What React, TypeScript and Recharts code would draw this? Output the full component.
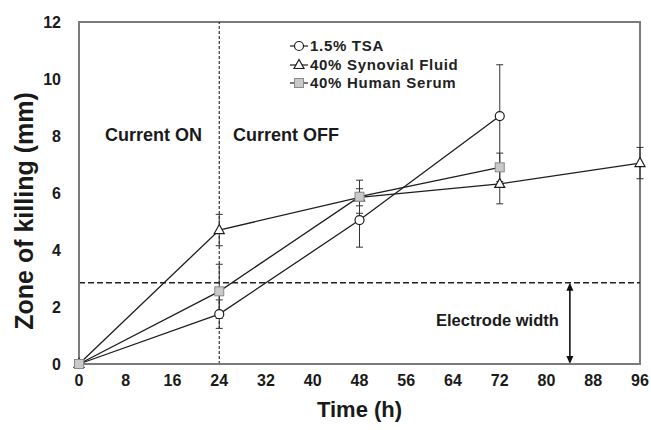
import React from 'react';
import { LineChart, Line, XAxis, YAxis, ErrorBar, ReferenceLine, ReferenceArea, Legend } from 'recharts';

const xTicks = [0, 8, 16, 24, 32, 40, 48, 56, 64, 72, 80, 88, 96];
const yTicks = [0, 2, 4, 6, 8, 10, 12];

const tsaTimes = [0, 24, 48, 72];
const tsaValues = [0, 1.75, 5.05, 8.7];
const tsaErrors = [0, 0.5, 0.95, 1.8];

const synTimes = [0, 24, 48, 72, 96];
const synValues = [0, 4.7, 5.85, 6.32, 7.05];
const synErrors = [0, 0.55, 0.3, 0.7, 0.55];

const serTimes = [0, 24, 48, 72];
const serValues = [0, 2.55, 5.87, 6.9];
const serErrors = [0, 0.95, 0.58, 0.5];

const electrodeWidth = 2.85;
const currentOffTime = 24;
const arrowTime = 84;

const build = (t: number[], v: number[], e: number[]) => t.map((x, i) => ({ t: x, v: v[i], e: e[i] }));
const tsaData = build(tsaTimes, tsaValues, tsaErrors);
const synData = build(synTimes, synValues, synErrors);
const serData = build(serTimes, serValues, serErrors);

const LINE = '#1e1e1e';
const AXIS = '#7a7a7a';
const FONT = 'Liberation Sans, Arial, sans-serif';

const CircleDot = (p: any) => <circle cx={p.cx} cy={p.cy} r={4.5} fill="#fff" stroke={LINE} strokeWidth={1.2} />;
const TriDot = (p: any) => (
  <polygon points={`${p.cx},${p.cy - 5.5} ${p.cx - 5},${p.cy + 3.5} ${p.cx + 5},${p.cy + 3.5}`} fill="#fff" stroke={LINE} strokeWidth={1.2} />
);
const SqDot = (p: any) => <rect x={p.cx - 4.5} y={p.cy - 4.5} width={9} height={9} fill="#c9c9c9" stroke="#8a8a8a" strokeWidth={1} />;

const legendItems = [
  { name: '1.5% TSA', Dot: CircleDot },
  { name: '40% Synovial Fluid', Dot: TriDot },
  { name: '40% Human Serum', Dot: SqDot },
];

const LegendContent = () => (
  <div style={{ fontFamily: FONT, fontWeight: 'bold', fontSize: 15, letterSpacing: 0.7, color: '#222', lineHeight: '18.5px' }}>
    {legendItems.map((it) => (
      <div key={it.name} style={{ display: 'flex', alignItems: 'center' }}>
        <svg width={20} height={14} style={{ marginRight: 1 }}>
          <line x1={1} y1={7} x2={19} y2={7} stroke={LINE} strokeWidth={1.2} />
          <it.Dot cx={10} cy={7} />
        </svg>
        <span>{it.name}</span>
      </div>
    ))}
  </div>
);

const ArrowShape = (p: any) => {
  const { x1, y1, x2, y2 } = p;
  const top = Math.min(y1, y2);
  const bot = Math.max(y1, y2);
  const x = x1;
  return (
    <g>
      <line x1={x} y1={top + 2} x2={x} y2={bot - 2} stroke="#111" strokeWidth={1.6} />
      <polygon points={`${x},${top} ${x - 3.5},${top + 8} ${x + 3.5},${top + 8}`} fill="#111" />
      <polygon points={`${x},${bot} ${x - 3.5},${bot - 8} ${x + 3.5},${bot - 8}`} fill="#111" />
    </g>
  );
};

const tickStyle = { fontFamily: FONT, fontWeight: 'bold' as const, fontSize: 16, fill: '#1a1a1a' };

export default function App() {
  return (
    <div style={{ position: 'absolute', left: 0, top: 0, width: 651, height: 430, background: '#fff' }}>
      <LineChart width={651} height={430} margin={{ top: 22, right: 11, bottom: 16, left: 29 }}>
        <XAxis
          type="number"
          dataKey="t"
          domain={[0, 96]}
          ticks={xTicks}
          interval={0}
          allowDuplicatedCategory={false}
          axisLine={{ stroke: AXIS, strokeWidth: 2 }}
          tickLine={false}
          tickSize={6}
          tickMargin={5}
          height={50}
          tick={tickStyle}
          label={{ value: 'Time (h)', position: 'insideBottom', offset: -3, style: { fontFamily: FONT, fontWeight: 'bold', fontSize: 22, fill: '#1a1a1a' } }}
        />
        <YAxis
          type="number"
          domain={[0, 12]}
          ticks={yTicks}
          interval={0}
          axisLine={{ stroke: AXIS, strokeWidth: 2 }}
          tickLine={false}
          tickSize={6}
          tickMargin={12}
          width={50}
          tick={tickStyle}
          label={{ value: 'Zone of killing (mm)', angle: -90, position: 'insideLeft', offset: -5, dy: 18, style: { textAnchor: 'middle', fontFamily: FONT, fontWeight: 'bold', fontSize: 25, fill: '#1a1a1a' } }}
        />
        <ReferenceArea x1={0} x2={96} y1={0} y2={12} fill="none" stroke={AXIS} strokeWidth={2} ifOverflow="visible" />
        <ReferenceLine x={currentOffTime} stroke="#222" strokeWidth={1.1} strokeDasharray="3 2" />
        <ReferenceLine y={electrodeWidth} stroke="#222" strokeWidth={1.6} strokeDasharray="6 3" />
        <ReferenceLine segment={[{ x: arrowTime, y: electrodeWidth }, { x: arrowTime, y: 0 }]} shape={ArrowShape} />
        <Line data={tsaData} dataKey="v" name="1.5% TSA" stroke={LINE} strokeWidth={1.3} dot={<CircleDot />} isAnimationActive={false} legendType="circle">
          <ErrorBar dataKey="e" direction="y" width={3.5} stroke="#333" strokeWidth={1} />
        </Line>
        <Line data={synData} dataKey="v" name="40% Synovial Fluid" stroke={LINE} strokeWidth={1.3} dot={<TriDot />} isAnimationActive={false} legendType="triangle">
          <ErrorBar dataKey="e" direction="y" width={3.5} stroke="#333" strokeWidth={1} />
        </Line>
        <Line data={serData} dataKey="v" name="40% Human Serum" stroke={LINE} strokeWidth={1.3} dot={<SqDot />} isAnimationActive={false} legendType="square">
          <ErrorBar dataKey="e" direction="y" width={3.5} stroke="#333" strokeWidth={1} />
        </Line>
        <Legend content={<LegendContent />} layout="vertical" verticalAlign="middle" align="center" wrapperStyle={{ top: 37, left: 289, width: 240, position: 'absolute' }} />
        <text x={105} y={136} fontFamily={FONT} fontWeight="bold" fontSize={18} fill="#1a1a1a" dominantBaseline="middle">Current ON</text>
        <text x={233} y={136} fontFamily={FONT} fontWeight="bold" fontSize={18} fill="#1a1a1a" dominantBaseline="middle">Current OFF</text>
        <text x={436} y={322} fontFamily={FONT} fontWeight="bold" fontSize={16.5} fill="#1a1a1a" dominantBaseline="middle">Electrode width</text>
      </LineChart>
    </div>
  );
}
